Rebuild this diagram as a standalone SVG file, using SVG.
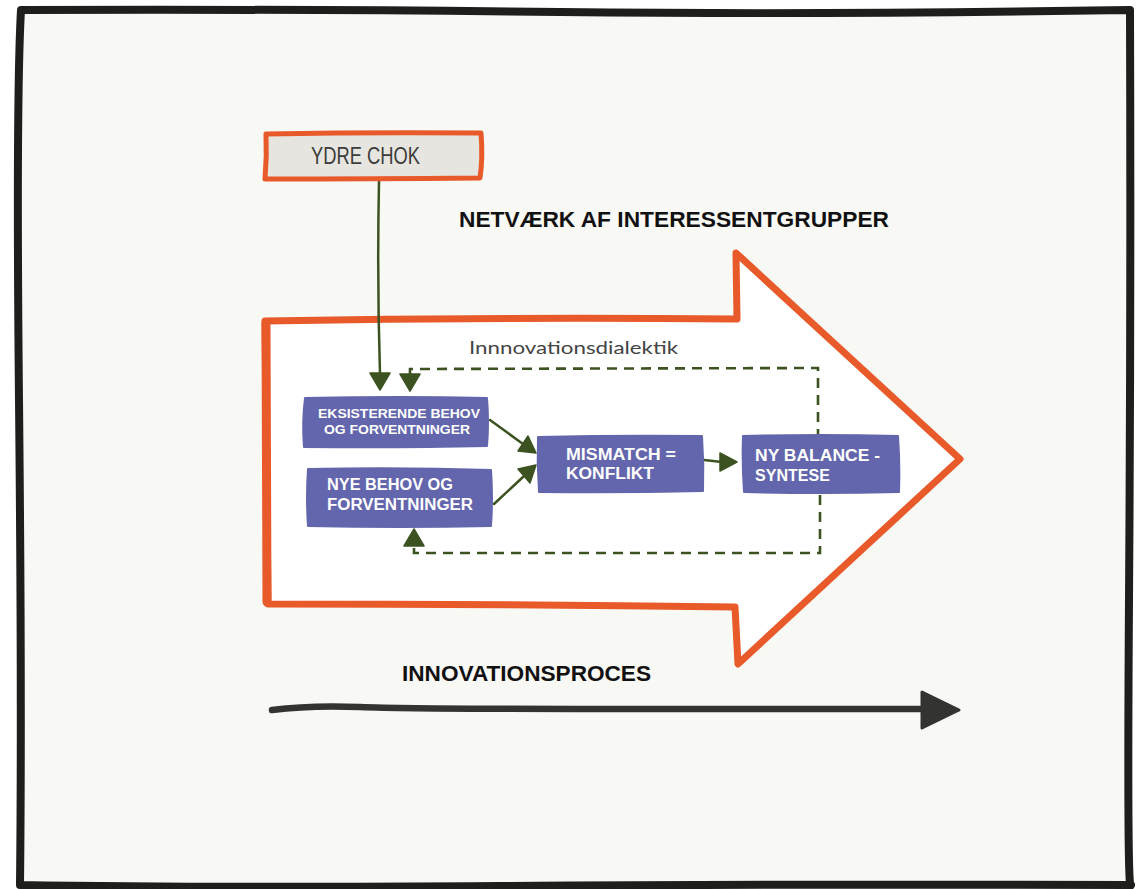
<svg xmlns="http://www.w3.org/2000/svg" width="1136" height="889" viewBox="0 0 1136 889">
  <defs>
    <style>
      .frame { fill: #f8f8f4; stroke: #1e1e1c; stroke-width: 8; stroke-linejoin: round; }
      .bigarrow { fill: #ffffff; stroke: #e85a2a; stroke-width: 7; stroke-linejoin: round; stroke-linecap: round; }
      .shock { fill: #e6e5e0; stroke: #e85a2a; stroke-width: 5; stroke-linejoin: round; }
      .node { fill: #6366ac; stroke: #6366ac; stroke-width: 2; stroke-linejoin: round; }
      .link { fill: none; stroke: #3d5221; stroke-width: 2.5; stroke-linecap: round; }
      .dash { fill: none; stroke: #3d5221; stroke-width: 2.6; stroke-dasharray: 10 7; }
      .head { fill: #3d5221; stroke: #3d5221; stroke-width: 1.5; stroke-linejoin: round; }
      .ntext { fill: #ffffff; font-family: "Liberation Sans", Arial, sans-serif; font-weight: bold; }
      .title { fill: #111111; font-family: "Liberation Sans", Arial, sans-serif; font-weight: bold; font-size: 22px; }
      .timeline { fill: none; stroke: #333331; stroke-width: 6.5; stroke-linecap: round; }
    </style>
  </defs>

  <rect x="0" y="0" width="1136" height="889" fill="#ffffff"/>

  <!-- outer sketch frame -->
  <path class="frame" d="M21 10 Q 300 9 560 12 T 1130 10 Q 1131 300 1129 600 T 1131 885 Q 800 884 500 886 T 20 885 Q 22 700 19 400 T 21 10 Z"/>

  <!-- process arrow -->
  <g id="process-arrow">
    <path class="bigarrow" d="M265 321 Q 500 317 737 319 L 736 253 L 960 459 L 738 664 L 735 607 Q 500 604 268 604 Q 266 460 265 321 Z"/>
    <path d="M266 323 L 267 602" fill="none" stroke="#e85a2a" stroke-width="9" stroke-linecap="round"/>
  </g>

  <!-- labels -->
  <text class="title" x="459" y="227" textLength="430" lengthAdjust="spacingAndGlyphs">NETVÆRK AF INTERESSENTGRUPPER</text>
  <text x="469" y="354" font-family="Lato, 'Liberation Sans', sans-serif" font-size="17" fill="#444444" textLength="209" lengthAdjust="spacingAndGlyphs">Innnovationsdialektik</text>
  <text class="title" x="402" y="681" textLength="249" lengthAdjust="spacingAndGlyphs">INNOVATIONSPROCES</text>

  <!-- timeline arrow -->
  <g id="timeline">
    <path class="timeline" d="M272 710 Q 310 705 360 707 T 600 709 T 925 709"/>
    <path d="M922 692 L 959 710 L 922 728 Z" fill="#333331" stroke="#333331" stroke-width="3" stroke-linejoin="round"/>
  </g>

  <!-- connectors -->
  <g id="connectors">
    <path class="link" d="M379 181 Q 377 280 380 374"/>
    <path class="head" d="M370 373 L 390 373 L 380 390 Z"/>

    <path class="dash" d="M410 376 L 410 369 L 818 368 L 818 436"/>
    <path class="head" d="M400 374 L 420 374 L 410 391 Z"/>

    <path class="dash" d="M820 495 L 820 553 L 414 553 L 414 547"/>
    <path class="head" d="M404 546 L 424 546 L 414 529 Z"/>

    <path class="link" d="M490 420 L 523 444"/>
    <path class="head" d="M528 436 L 536 453 L 518 451 Z"/>

    <path class="link" d="M494 504 L 523 477"/>
    <path class="head" d="M518 469 L 536 465 L 530 483 Z"/>

    <path class="link" d="M704 460 Q 713 461 722 462"/>
    <path class="head" d="M720 453 L 737 462 L 720 471 Z"/>
  </g>

  <!-- nodes -->
  <g id="ydre-chok">
    <path class="shock" d="M266 134 Q 370 132 481 133 Q 483 158 480 178 Q 370 179 265 179 Q 267 156 266 134 Z"/>
    <text x="311" y="164" font-family="'Liberation Sans', Arial, sans-serif" font-size="24" fill="#3c3c3a" textLength="109" lengthAdjust="spacingAndGlyphs">YDRE CHOK</text>
  </g>

  <g id="eksisterende">
    <path class="node" d="M305 398 Q 400 396 487 398 Q 489 422 487 446 Q 400 448 304 447 Q 302 422 305 398 Z"/>
    <text class="ntext" font-size="12.5" x="318" y="418" textLength="162" lengthAdjust="spacingAndGlyphs">EKSISTERENDE BEHOV</text>
    <text class="ntext" font-size="12.5" x="324" y="434" textLength="146" lengthAdjust="spacingAndGlyphs">OG FORVENTNINGER</text>
  </g>

  <g id="nye-behov">
    <path class="node" d="M308 469 Q 400 467 491 470 Q 493 498 491 526 Q 400 528 308 526 Q 306 498 308 469 Z"/>
    <text class="ntext" font-size="16" x="327" y="490" textLength="126" lengthAdjust="spacingAndGlyphs">NYE BEHOV OG</text>
    <text class="ntext" font-size="16" x="327" y="510" textLength="146" lengthAdjust="spacingAndGlyphs">FORVENTNINGER</text>
  </g>

  <g id="mismatch">
    <path class="node" d="M538 437 Q 620 435 702 436 Q 704 464 703 491 Q 620 493 539 492 Q 537 464 538 437 Z"/>
    <text class="ntext" font-size="16" x="566" y="460" textLength="110" lengthAdjust="spacingAndGlyphs">MISMATCH =</text>
    <text class="ntext" font-size="16" x="566" y="479" textLength="88" lengthAdjust="spacingAndGlyphs">KONFLIKT</text>
  </g>

  <g id="ny-balance">
    <path class="node" d="M743 436 Q 820 434 898 436 Q 900 464 899 492 Q 820 494 744 492 Q 742 464 743 436 Z"/>
    <text class="ntext" font-size="16" x="755" y="461" textLength="125" lengthAdjust="spacingAndGlyphs">NY BALANCE -</text>
    <text class="ntext" font-size="16" x="755" y="481" textLength="75" lengthAdjust="spacingAndGlyphs">SYNTESE</text>
  </g>
</svg>
